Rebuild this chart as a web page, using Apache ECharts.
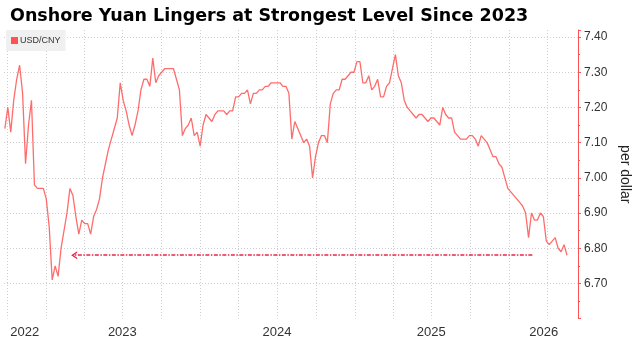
<!DOCTYPE html>
<html>
<head>
<meta charset="utf-8">
<script src="https://cdn.jsdelivr.net/npm/echarts@6/dist/echarts.min.js"></script>
<style>
  html, body { margin: 0; padding: 0; background: #fff; }
  #chart { width: 633px; height: 337px; }
</style>
</head>
<body>
<div id="chart"></div>
<script>
// weekly USD/CNY readings, first week starting 2022-09-26
const firstWeek = '2022-09-26';
const usdCny = [
  7.14, 7.20, 7.13, 7.22, 7.28, 7.32, 7.24, 7.04, 7.15, 7.22,
  6.98, 6.97, 6.97, 6.97, 6.94, 6.86, 6.71, 6.75, 6.72, 6.80,
  6.85, 6.90, 6.97, 6.95, 6.89, 6.84, 6.88, 6.87, 6.87, 6.84,
  6.89, 6.91, 6.94, 7.00, 7.04, 7.08, 7.11, 7.14, 7.17, 7.27,
  7.22, 7.19, 7.15, 7.12, 7.15, 7.19, 7.25, 7.28, 7.28, 7.26,
  7.34, 7.27, 7.29, 7.30, 7.31, 7.31, 7.31, 7.31, 7.28, 7.25,
  7.12, 7.14, 7.15, 7.17, 7.12, 7.13, 7.09, 7.15, 7.18, 7.17,
  7.16, 7.18, 7.19, 7.19, 7.19, 7.18, 7.19, 7.19, 7.23, 7.23,
  7.24, 7.24, 7.25, 7.21, 7.24, 7.24, 7.25, 7.25, 7.26, 7.26,
  7.27, 7.27, 7.27, 7.27, 7.26, 7.26, 7.24, 7.11, 7.16, 7.14,
  7.12, 7.10, 7.11, 7.09, 7.00, 7.06, 7.10, 7.12, 7.12, 7.10,
  7.21, 7.24, 7.25, 7.25, 7.28, 7.28, 7.29, 7.30, 7.30, 7.33,
  7.33, 7.27, 7.27, 7.29, 7.25, 7.26, 7.28, 7.23, 7.23, 7.26,
  7.27, 7.31, 7.35, 7.29, 7.27, 7.22, 7.20, 7.19, 7.18, 7.17,
  7.18, 7.18, 7.17, 7.16, 7.17, 7.17, 7.16, 7.15, 7.20, 7.18,
  7.17, 7.17, 7.13, 7.12, 7.11, 7.11, 7.11, 7.12, 7.12, 7.11,
  7.09, 7.12, 7.11, 7.10, 7.08, 7.06, 7.06, 7.04, 7.03, 7.00,
  6.97, 6.96, 6.95, 6.94, 6.93, 6.92, 6.90, 6.83, 6.90, 6.88,
  6.88, 6.90, 6.89, 6.82, 6.81, 6.82, 6.83, 6.80, 6.79, 6.81,
  6.78
];

const yearLabelDates = ['2022-11-12', '2023-07-01', '2024-07-01', '2025-07-01', '2026-03-24'];
const quarterDates = [
  '2022-10-01', '2023-01-01', '2023-04-01', '2023-07-01', '2023-10-01',
  '2024-01-01', '2024-04-01', '2024-07-01', '2024-10-01',
  '2025-01-01', '2025-04-01', '2025-07-01', '2025-10-01',
  '2026-01-01', '2026-04-01'
];
const axisStart = '2022-09-24';
const axisEnd = '2026-06-13';

// dashed arrow back to the 2023 level
const arrowLevel = 6.78;
const arrowFrom = '2026-02-25';
const arrowTo = '2023-03-09';

const red = '#ff5252';
const gridColor = '#cfcfcf';

const dayMs = 86400000;
const ms = d => Date.parse(d);
const seriesData = usdCny.map((v, i) => [ms(firstWeek) + i * 7 * dayMs, v]);

const chart = echarts.init(document.getElementById('chart'), null, { renderer: 'canvas' });

const option = {
  animation: false,
  textStyle: { fontFamily: 'Liberation Sans, Arial, sans-serif' },
  title: {
    text: 'Onshore Yuan Lingers at Strongest Level Since 2023',
    left: 5,
    top: 2,
    textStyle: { fontSize: 17.5, fontWeight: 'bold', color: '#000', fontFamily: 'DejaVu Sans, Verdana, sans-serif' }
  },
  legend: {
    left: 6,
    top: 30,
    icon: 'rect',
    itemWidth: 7,
    itemHeight: 7,
    itemGap: 4,
    padding: [6, 5, 6, 5],
    backgroundColor: '#f0f0f0',
    textStyle: { fontSize: 9, color: '#333', padding: [0, 0, 0, -3] },
    data: ['USD/CNY']
  },
  grid: { left: 4, right: 55, top: 30, bottom: 18.4, outerBoundsMode: 'none' },
  xAxis: {
    type: 'value',
    min: ms(axisStart),
    max: ms(axisEnd),
    axisLine: { show: false },
    axisTick: { show: false, customValues: quarterDates.map(ms) },
    splitLine: { show: true, lineStyle: { color: gridColor, type: [1, 2], width: 1 } },
    axisLabel: {
      customValues: yearLabelDates.map(ms),
      formatter: function (val) { return String(new Date(val).getUTCFullYear()); },
      fontSize: 13,
      color: '#333',
      margin: 7
    }
  },
  yAxis: {
    type: 'value',
    position: 'right',
    min: 6.6,
    max: 7.42,
    interval: 0.1,
    name: 'per dollar',
    nameLocation: 'middle',
    nameRotate: -90,
    nameGap: 37,
    nameTextStyle: { fontSize: 14, color: '#222' },
    axisLine: { show: true, lineStyle: { color: red, width: 1 } },
    axisTick: { show: true, length: 3, lineStyle: { color: red } },
    minorTick: { show: true, splitNumber: 2, length: 2, lineStyle: { color: red } },
    splitLine: { show: true, showMinLine: false, showMaxLine: false, lineStyle: { color: gridColor, type: [1, 2], width: 1 } },
    axisLabel: {
      fontSize: 12,
      color: '#333',
      margin: 6,
      formatter: function (v) {
        if (v < 6.65 || v > 7.405) return '';
        return v.toFixed(2);
      }
    }
  },
  series: [
    {
      name: 'USD/CNY',
      type: 'line',
      data: seriesData,
      showSymbol: false,
      color: red,
      lineStyle: { width: 1.3, color: red, opacity: 0.85 },
      markLine: {
        silent: true,
        symbol: ['none', 'none'],
        label: { show: false },
        lineStyle: { color: '#e8264a', type: [4, 1.5, 1.5, 1.5], width: 1.5, opacity: 1 },
        data: [[
          { coord: [ms(arrowFrom), arrowLevel], symbol: 'none' },
          { coord: [ms(arrowTo), arrowLevel], symbol: 'path://M0,10 L5,0 L10,10 L8,10 L5,4 L2,10 Z', symbolSize: [8, 6] }
        ]]
      }
    }
  ]
};

chart.setOption(option);
</script>
</body>
</html>
